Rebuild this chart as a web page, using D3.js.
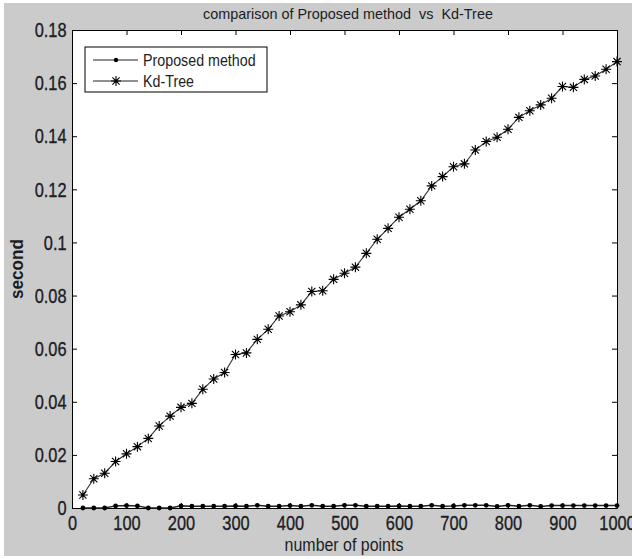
<!DOCTYPE html>
<html>
<head>
<meta charset="utf-8">
<script src="https://cdn.jsdelivr.net/npm/d3@7"></script>
<style>
  body { margin: 0; background: #fff; }
  svg { display: block; }
</style>
</head>
<body>
<div id="chart"></div>
<script>
(function() {

  // number of points (x values)
  var points = [20, 40, 60, 80, 100, 120, 140, 160, 180, 200,
                220, 240, 260, 280, 300, 320, 340, 360, 380, 400,
                420, 440, 460, 480, 500, 520, 540, 560, 580, 600,
                620, 640, 660, 680, 700, 720, 740, 760, 780, 800,
                820, 840, 860, 880, 900, 920, 940, 960, 980, 1000];

  // seconds for the proposed method
  var proposed = [0, 0, 0, 0.0008, 0.0009, 0.0008, 0, 0, 0, 0.0008,
                  0.0007, 0.0007, 0.0007, 0.0007, 0.0008, 0.0007, 0.0010, 0.0007, 0.0007, 0.0009,
                  0.0007, 0.0010, 0.0007, 0.0007, 0.0010, 0.0010, 0.0007, 0.0007, 0.0007, 0.0008,
                  0.0007, 0.0007, 0.0010, 0.0007, 0.0008, 0.0010, 0.0010, 0.0010, 0.0006, 0.0010,
                  0.0007, 0.0010, 0.0006, 0.0009, 0.0009, 0.0009, 0.0009, 0.0009, 0.0009, 0.0009];

  // seconds for the kd-tree
  var kdtree = [0.0049, 0.0110, 0.0131, 0.0175, 0.0204, 0.0231, 0.0262, 0.0309, 0.0346, 0.0379,
                0.0394, 0.0447, 0.0486, 0.0510, 0.0578, 0.0584, 0.0635, 0.0673, 0.0723, 0.0739,
                0.0765, 0.0815, 0.0818, 0.0861, 0.0884, 0.0907, 0.0959, 0.1012, 0.1053, 0.1095,
                0.1125, 0.1157, 0.1213, 0.1248, 0.1285, 0.1296, 0.1348, 0.1380, 0.1396, 0.1426,
                0.1471, 0.1496, 0.1518, 0.1543, 0.1587, 0.1584, 0.1614, 0.1627, 0.1652, 0.1681];

  var xTicks = [0, 100, 200, 300, 400, 500, 600, 700, 800, 900, 1000],
      yTicks = [0, 0.02, 0.04, 0.06, 0.08, 0.1, 0.12, 0.14, 0.16, 0.18];

  var seriesNames = ['Proposed method', 'Kd-Tree'];

  var width = 632, height = 559,
      left = 72, right = 617, top = 30, bottom = 508,
      font = '"Liberation Sans", Arial, sans-serif',
      ink = '#1c1c24';

  var svg = d3.select('#chart')
    .append('svg')
    .attr('width', width)
    .attr('height', height);

  // figure background
  svg.append('rect')
    .attr('x', 4).attr('y', 3)
    .attr('width', width - 4).attr('height', height - 6)
    .attr('fill', '#cbcbcb');

  svg.append('rect')
    .attr('x', left).attr('y', top)
    .attr('width', right - left).attr('height', bottom - top)
    .attr('fill', '#fff');

  var x = d3.scaleLinear().domain([0, 1000]).range([left, right]);
  var y = d3.scaleLinear().domain([0, 0.18]).range([bottom, top]);

  function styleAxis(g) {
    g.selectAll('path, line').attr('stroke', '#000').attr('stroke-width', 1);
    g.selectAll('text')
      .attr('fill', ink)
      .attr('stroke', ink)
      .attr('stroke-width', 0.35)
      .style('font-family', font)
      .style('font-size', '21px')
      .attr('transform', 'scale(0.78,1)');
  }

  svg.append('g')
    .attr('transform', 'translate(0,' + bottom + ')')
    .call(d3.axisBottom(x).tickValues(xTicks).tickSize(-5).tickSizeOuter(0).tickPadding(7)
      .tickFormat(d3.format('d')))
    .call(styleAxis);

  svg.append('g')
    .attr('transform', 'translate(' + left + ',0)')
    .call(d3.axisLeft(y).tickValues(yTicks).tickSize(-5).tickSizeOuter(0).tickPadding(7)
      .tickFormat(function(d) { return d === 0 ? '0' : d3.format('')(+d.toFixed(2)); }))
    .call(styleAxis);

  svg.append('g')
    .attr('transform', 'translate(0,' + top + ')')
    .call(d3.axisTop(x).tickValues(xTicks).tickSize(-5).tickSizeOuter(0).tickFormat(''))
    .call(styleAxis);

  svg.append('g')
    .attr('transform', 'translate(' + right + ',0)')
    .call(d3.axisRight(y).tickValues(yTicks).tickSize(-5).tickSizeOuter(0).tickFormat(''))
    .call(styleAxis);

  // lines
  var line = d3.line()
    .x(function(d) { return x(d[0]); })
    .y(function(d) { return y(d[1]); });

  var proposedData = d3.zip(points, proposed),
      kdData = d3.zip(points, kdtree);

  // matlab style '*' marker
  var starPath = 'M-5,0H5M0,-5V5M-3.6,-3.6L3.6,3.6M-3.6,3.6L3.6,-3.6';

  function star(g) {
    g.append('path')
      .attr('d', starPath)
      .attr('stroke', '#000')
      .attr('stroke-width', 1.1)
      .attr('fill', 'none');
    g.append('circle').attr('r', 1.6).attr('fill', '#000');
  }

  svg.append('path')
    .datum(kdData)
    .attr('d', line)
    .attr('fill', 'none')
    .attr('stroke', '#333')
    .attr('stroke-width', 1.1);

  svg.selectAll('.kd')
    .data(kdData)
    .enter()
    .append('g')
    .attr('class', 'kd')
    .attr('transform', function(d) { return 'translate(' + x(d[0]) + ',' + y(d[1]) + ')'; })
    .each(function() { star(d3.select(this)); });

  svg.append('path')
    .datum(proposedData)
    .attr('d', line)
    .attr('fill', 'none')
    .attr('stroke', '#222')
    .attr('stroke-width', 1.5);

  svg.selectAll('.pm')
    .data(proposedData)
    .enter()
    .append('circle')
    .attr('class', 'pm')
    .attr('cx', function(d) { return x(d[0]); })
    .attr('cy', function(d) { return y(d[1]); })
    .attr('r', 2.4)
    .attr('fill', '#000');

  // title and axis labels
  svg.append('text')
    .attr('x', 348).attr('y', 19)
    .attr('text-anchor', 'middle')
    .style('font-family', font)
    .style('font-size', '14.4px')
    .style('white-space', 'pre')
    .attr('fill', ink)
    .text('comparison of Proposed method  vs  Kd-Tree');

  svg.append('text')
    .attr('transform', 'translate(344,551) scale(0.84,1)')
    .attr('text-anchor', 'middle')
    .style('font-family', font)
    .style('font-size', '19px')
    .attr('fill', ink)
    .text('number of points');

  svg.append('text')
    .attr('transform', 'translate(23,269) rotate(-90) scale(0.9,1)')
    .attr('text-anchor', 'middle')
    .style('font-family', font)
    .style('font-size', '19px')
    .style('font-weight', 'bold')
    .attr('fill', ink)
    .text('second');

  // legend
  var legend = svg.append('g');

  legend.append('rect')
    .attr('x', 85).attr('y', 47)
    .attr('width', 182).attr('height', 45)
    .attr('fill', '#fff')
    .attr('stroke', '#000');

  var items = legend.selectAll('.item')
    .data(seriesNames)
    .enter()
    .append('g')
    .attr('class', 'item')
    .attr('transform', function(d, i) { return 'translate(0,' + (60 + i * 21) + ')'; });

  items.append('line')
    .attr('x1', 93).attr('x2', 138)
    .attr('stroke', '#222');

  items.each(function(d, i) {
    var g = d3.select(this);
    if (i === 0) {
      g.append('circle').attr('cx', 116).attr('r', 2.2).attr('fill', '#000');
    } else {
      star(g.append('g').attr('transform', 'translate(116,0)'));
    }
  });

  items.append('text')
    .attr('transform', 'translate(143,6) scale(0.84,1)')
    .style('font-family', font)
    .style('font-size', '17px')
    .attr('fill', ink)
    .text(function(d) { return d; });

})();
</script>
</body>
</html>
